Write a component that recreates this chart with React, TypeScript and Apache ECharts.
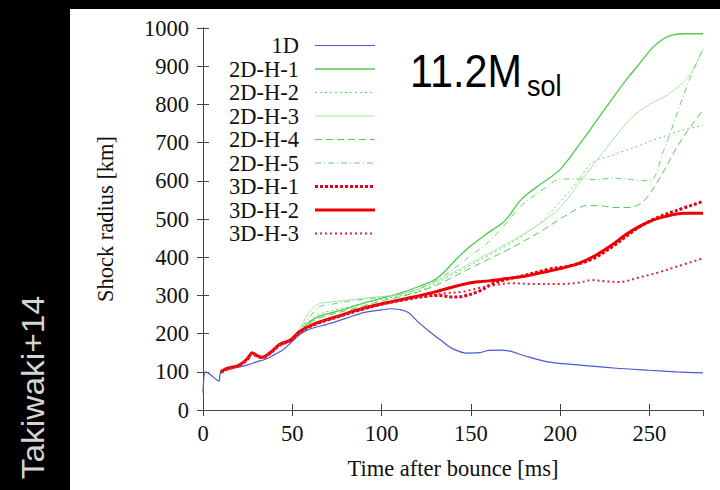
import React, { useEffect, useRef } from "react";
import * as echarts from "echarts";

// ---- data (time after bounce [ms], shock radius [km]) ----
const xTicks = [0, 50, 100, 150, 200, 250];
const yTicks = [0, 100, 200, 300, 400, 500, 600, 700, 800, 900, 1000];

const t1D = [0, 1.5, 4, 8, 9, 10, 15, 20, 25, 30, 35, 40, 45, 50, 55, 60, 70, 80, 90, 100, 105, 110, 115, 121, 127, 133, 140, 148, 155, 160, 166, 172, 180, 193, 210, 230, 250, 265, 280];
const r1D = [45, 100, 93, 78, 76, 100, 108, 112, 118, 126, 133, 145, 158, 180, 200, 212, 225, 240, 255, 262, 265, 263, 255, 228, 205, 183, 160, 149, 150, 156, 157, 154, 142, 126, 118, 110, 104, 100, 97];

const t2D1 = [45, 50, 55, 60, 65, 70, 80, 90, 100, 110, 120, 131, 143, 150, 160, 169, 177, 182, 190, 200, 210, 220, 230, 237, 245, 252, 258, 263, 270, 280];
const r2D1 = [172, 185, 210, 232, 245, 252, 265, 280, 293, 305, 322, 345, 400, 430, 465, 495, 545, 567, 594, 630, 690, 755, 820, 864, 910, 950, 972, 982, 985, 985];

const t2D2 = [45, 50, 55, 60, 65, 70, 80, 90, 100, 110, 120, 130, 140, 150, 160, 170, 180, 190, 200, 210, 218, 228, 237, 246, 254, 262, 270, 280];
const r2D2 = [172, 185, 210, 235, 250, 258, 268, 280, 290, 298, 310, 330, 355, 380, 405, 430, 460, 495, 545, 600, 648, 665, 680, 695, 710, 722, 735, 745];

const t2D3 = [45, 50, 55, 60, 65, 70, 80, 90, 100, 110, 120, 130, 140, 150, 160, 170, 180, 190, 200, 210, 220, 230, 240, 250, 260, 267, 273, 280];
const r2D3 = [172, 187, 220, 260, 278, 282, 287, 293, 297, 303, 315, 335, 360, 385, 410, 435, 462, 492, 530, 590, 650, 710, 765, 800, 825, 850, 880, 945];

const t2D4 = [45, 50, 55, 60, 65, 70, 80, 90, 100, 110, 120, 130, 140, 150, 160, 170, 180, 190, 200, 210, 215, 222, 230, 238, 245, 250, 258, 265, 272, 280];
const r2D4 = [172, 185, 208, 228, 240, 248, 260, 273, 286, 296, 308, 325, 348, 372, 395, 418, 443, 470, 500, 528, 535, 535, 530, 530, 540, 565, 625, 685, 735, 785];

const t2D5 = [45, 50, 55, 60, 65, 70, 80, 90, 100, 110, 120, 130, 140, 150, 160, 170, 177, 185, 193, 200, 210, 220, 230, 240, 250, 258, 265, 272, 280];
const r2D5 = [172, 186, 215, 245, 270, 275, 283, 290, 295, 302, 316, 338, 368, 405, 440, 490, 530, 560, 585, 605, 605, 603, 607, 603, 600, 680, 770, 860, 945];

const t3D1 = [10, 13, 20, 25, 27.5, 30, 33, 38, 43, 49, 54, 62, 75, 88, 99, 114, 125, 132, 140, 146, 155, 162, 170, 180, 193, 205, 218, 230, 240, 246, 255, 265, 280];
const r3D1 = [98, 106, 116, 133, 148, 142, 137, 150, 170, 182, 203, 223, 243, 262, 276, 290, 298, 300, 296, 298, 312, 330, 342, 352, 368, 377, 395, 430, 465, 484, 505, 522, 546];

const t3D2 = [10, 13, 20, 25, 27.5, 30, 33, 38, 43, 49, 54, 62, 75, 88, 99, 114, 129, 140, 150, 160, 170, 180, 190, 200, 210, 220, 230, 237, 245, 252, 260, 265, 270, 280];
const r3D2 = [100, 108, 117, 135, 150, 143, 138, 152, 172, 183, 205, 225, 245, 264, 277, 292, 308, 322, 333, 338, 344, 350, 360, 370, 383, 405, 435, 460, 482, 497, 508, 513, 515, 515];

const t3D3 = [10, 13, 20, 25, 27.5, 30, 33, 38, 43, 49, 54, 62, 75, 88, 99, 114, 125, 135, 146, 155, 165, 172, 185, 200, 210, 218, 225, 233, 245, 255, 265, 280];
const r3D3 = [99, 107, 116, 134, 149, 142, 137, 151, 171, 182, 204, 224, 244, 263, 276, 290, 298, 305, 310, 320, 328, 332, 330, 330, 333, 340, 337, 335, 348, 360, 375, 397];

const seriesNames = ["1D", "2D-H-1", "2D-H-2", "2D-H-3", "2D-H-4", "2D-H-5", "3D-H-1", "3D-H-2", "3D-H-3"];

const zip = (t: number[], r: number[]) => t.map((v, i) => [v, r[i]]);

const SERIF = "'Liberation Serif', 'Times New Roman', serif";
const SANS = "'Liberation Sans', Arial, sans-serif";
const FS = 22.5;

export default function App() {
  const ref = useRef<HTMLDivElement>(null);
  useEffect(() => {
    document.body.style.margin = "0";
    if (!ref.current) return;
    const chart = echarts.init(ref.current, undefined, { renderer: "svg" });

    const styles: any[] = [
      { color: "#4a5ad2", width: 1.2, type: "solid" },
      { color: "#4ccb4c", width: 1.3, type: "solid" },
      { color: "#5fd35f", width: 1, type: [2, 3] },
      { color: "#a6e6a6", width: 1, type: "solid" },
      { color: "#55c855", width: 1, type: [7, 4] },
      { color: "#6ad46a", width: 1, type: [6, 3, 1, 3] },
      { color: "#e8001a", width: 3, type: [3, 2] },
      { color: "#ee0000", width: 3, type: "solid" },
      { color: "#e8203a", width: 2, type: [2, 3] },
    ];
    const datas = [
      zip(t1D, r1D), zip(t2D1, r2D1), zip(t2D2, r2D2), zip(t2D3, r2D3),
      zip(t2D4, r2D4), zip(t2D5, r2D5), zip(t3D1, r3D1), zip(t3D2, r3D2), zip(t3D3, r3D3),
    ];

    const series = seriesNames.map((name, i) => ({
      name,
      type: "line",
      data: datas[i],
      showSymbol: false,
      symbol: "none",
      smooth: 0.35,
      color: styles[i].color,
      lineStyle: { color: styles[i].color, width: styles[i].width, type: styles[i].type },
      z: 2 + i,
    }));

    const axisLine = { show: true, lineStyle: { color: "#444", width: 1 } };
    const axisTick = { show: true, inside: true, length: 6, lineStyle: { color: "#444", width: 1 } };

    chart.setOption({
      animation: false,
      backgroundColor: "#000",
      grid: { left: 203, right: 17, top: 28, bottom: 80, containLabel: false },
      legend: {
        orient: "vertical",
        align: "right",
        left: 229,
        top: 34,
        padding: 0,
        itemGap: 0.5,
        itemWidth: 60,
        itemHeight: 4,
        itemStyle: { opacity: 0 },
        textStyle: { fontFamily: SERIF, fontSize: FS, color: "#111", padding: [0, 11, 0, 0] },
        data: seriesNames.map((n, i) => ({ name: n, lineStyle: { width: styles[i].width } })),
      },
      xAxis: [
        {
          type: "value",
          min: 0,
          max: 280,
          interval: 50,
          name: "Time after bounce [ms]",
          nameLocation: "middle",
          nameGap: 47,
          nameTextStyle: { fontFamily: SERIF, fontSize: FS, color: "#111" },
          axisLine,
          axisTick,
          splitLine: { show: false },
          axisLabel: { fontFamily: SERIF, fontSize: FS, color: "#111", margin: 12, showMaxLabel: false,
            formatter: (v: number) => (xTicks.includes(v) ? String(v) : "") },
        },
        {
          type: "value",
          position: "top",
          min: 0,
          max: 280,
          interval: 50,
          axisLine,
          axisTick,
          splitLine: { show: false },
          axisLabel: { show: false },
        },
      ],
      yAxis: [
        {
          type: "value",
          min: 0,
          max: 1000,
          interval: 100,
          name: "Shock radius [km]",
          nameLocation: "middle",
          nameRotate: 90,
          nameGap: 86,
          nameTextStyle: { fontFamily: SERIF, fontSize: FS, color: "#111" },
          axisLine,
          axisTick,
          splitLine: { show: false },
          axisLabel: { fontFamily: SERIF, fontSize: FS, color: "#111", margin: 14,
            formatter: (v: number) => (yTicks.includes(v) ? String(v) : "") },
        },
        {
          type: "value",
          position: "right",
          min: 0,
          max: 1000,
          interval: 100,
          axisLine,
          axisTick,
          splitLine: { show: false },
          axisLabel: { show: false },
        },
      ],
      graphic: {
        elements: [
          { type: "rect", z: -100, shape: { x: 70, y: 9, width: 650, height: 481 }, style: { fill: "#fff" } },
          {
            type: "text", z: 100, x: 33, y: 296, rotation: Math.PI / 2, scaleX: 1.08,
            style: { text: "Takiwaki+14", fontFamily: SANS, fontSize: 31, fill: "#d4d4d4", align: "right", verticalAlign: "middle" },
          },
          {
            type: "text", z: 100, x: 410, y: 70.5, scaleX: 0.88,
            style: { text: "11.2M", fontFamily: SANS, fontSize: 47, fill: "#000", align: "left", verticalAlign: "middle" },
          },
          {
            type: "text", z: 100, x: 527, y: 85, scaleX: 0.9,
            style: { text: "sol", fontFamily: SANS, fontSize: 30, fill: "#000", align: "left", verticalAlign: "middle" },
          },
        ],
      },
      series,
    });
    return () => chart.dispose();
  }, []);
  return <div ref={ref} style={{ width: 720, height: 490 }} />;
}
